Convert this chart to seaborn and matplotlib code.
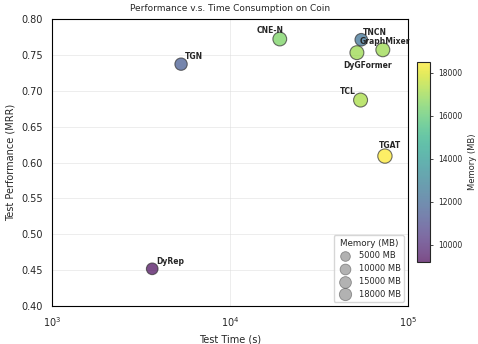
import numpy as np
import pandas as pd
import matplotlib
matplotlib.use("Agg")
import matplotlib.pyplot as plt
import seaborn as sns

models = ["DyRep", "TGN", "CNE-N", "TNCN", "GraphMixer", "DyGFormer", "TCL", "TGAT"]
test_time = [3650, 5300, 19000, 54500, 72000, 51500, 54000, 74000]
mrr = [0.452, 0.737, 0.772, 0.771, 0.757, 0.753, 0.687, 0.609]
memory = [9300, 11500, 16500, 12300, 17000, 17000, 17200, 18500]

legend_sizes = [5000, 10000, 15000, 18000]

df = pd.DataFrame({"model": models, "time": test_time, "mrr": mrr, "memory": memory})

sns.set_style("white")
plt.rcParams["font.family"] = ["DejaVu Sans"]

vmin, vmax = 9200, 18500

fig = plt.figure(figsize=(4.78, 3.44), dpi=100)
ax = fig.add_axes([0.109, 0.110, 0.745, 0.835])
cax = fig.add_axes([0.873, 0.238, 0.027, 0.582])

sns.scatterplot(
    data=df, x="time", y="mrr",
    hue="memory", palette="viridis", hue_norm=(vmin, vmax),
    size="memory", sizes=(70, 106),
    size_norm=(min(memory), max(memory)),
    alpha=0.7, edgecolor="#333333", linewidth=0.8,
    legend=False, ax=ax, zorder=3,
)

# label offsets in points (dx, dy, ha)
offsets = {
    "DyRep": (2.9, 3.6, "left"),
    "TGN": (2.9, 3.6, "left"),
    "CNE-N": (2.9, 4.3, "right"),
    "TNCN": (1.4, 3.6, "left"),
    "GraphMixer": (-17, 4.3, "left"),
    "DyGFormer": (-10, -10.8, "left"),
    "TCL": (-3.6, 4.3, "right"),
    "TGAT": (-4.3, 5.8, "left"),
}
for m, t, v in zip(models, test_time, mrr):
    dx, dy, ha = offsets[m]
    ax.annotate(m, (t, v), xytext=(dx, dy), textcoords="offset points",
                fontsize=5.5, fontweight="bold", ha=ha, va="baseline", zorder=4)

ax.set_xscale("log")
ax.set_xlim(1e3, 1e5)
ax.set_ylim(0.40, 0.80)
ax.set_yticks(np.arange(0.40, 0.801, 0.05))
ax.grid(True, color="#dddddd", alpha=0.6, linewidth=0.6)
ax.set_axisbelow(True)
for s in ax.spines.values():
    s.set_color("black")
    s.set_linewidth(0.8)
ax.tick_params(axis="both", labelsize=7, length=3, width=0.6)
ax.tick_params(axis="x", which="minor", length=1.5, width=0.5)
ax.set_xlabel("Test Time (s)", fontsize=7)
ax.set_ylabel("Test Performance (MRR)", fontsize=7)
ax.set_title("Performance v.s. Time Consumption on Coin", fontsize=6.5)

sm = plt.cm.ScalarMappable(cmap="viridis", norm=plt.Normalize(vmin, vmax))
cb = fig.colorbar(sm, cax=cax, alpha=0.7)
cb.set_ticks([10000, 12000, 14000, 16000, 18000])
cb.ax.tick_params(labelsize=5.5, length=2.5, width=0.6)
cb.set_label("Memory (MB)", fontsize=6)
cb.outline.set_linewidth(0.8)

handles = [ax.scatter([], [], s=37 + 0.0023 * v, color="gray", alpha=0.6,
                      edgecolor="#555555", linewidth=0.6)
           for v in legend_sizes]
leg = ax.legend(handles, [f"{v} MB" for v in legend_sizes], title="Memory (MB)",
                loc="lower right", fontsize=6, title_fontsize=6.3, labelspacing=0.45,
                handletextpad=0.6, borderpad=0.4, frameon=True)

fig.savefig("out.png", dpi=100)
